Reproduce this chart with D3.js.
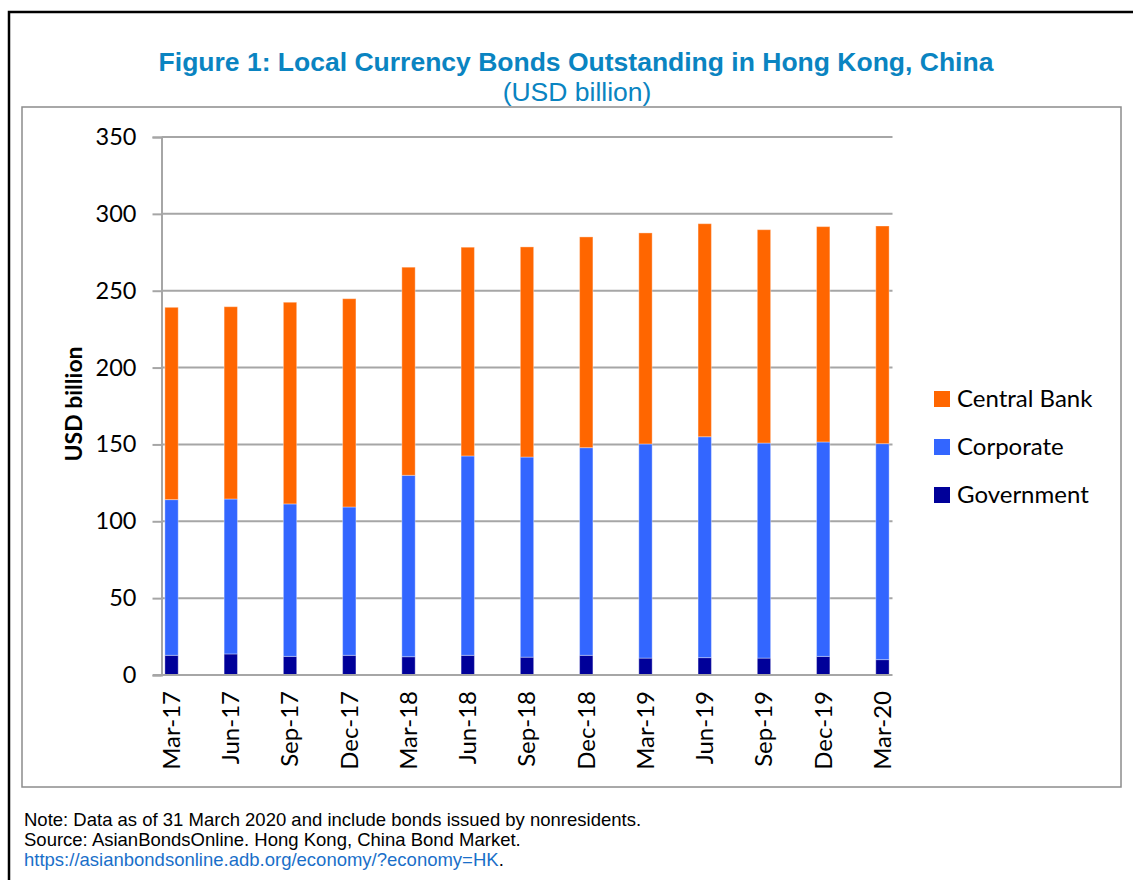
<!DOCTYPE html>
<html>
  <head>
    <meta charset="UTF-8" />
    <script src="https://cdnjs.cloudflare.com/ajax/libs/d3/7.8.5/d3.min.js"></script>
    <style>
      body { margin: 0; background: #fff; }
      text.tick-label { font-family: Lato, "Open Sans", sans-serif; font-size: 24px; fill: #000; }
      line.grid { stroke: #a6a6a6; stroke-width: 2; }
      .title { font-family: "Liberation Sans", Arial, sans-serif; fill: #0a84c1; }
      .note { font-family: "Liberation Sans", Arial, sans-serif; font-size: 18.5px; fill: #000; }
    </style>
  </head>
  <body>
    <svg id="chart" width="1133" height="880"></svg>
    <script>
      // data (USD billion)
      var quarters = ["Mar-17", "Jun-17", "Sep-17", "Dec-17", "Mar-18", "Jun-18", "Sep-18",
                      "Dec-18", "Mar-19", "Jun-19", "Sep-19", "Dec-19", "Mar-20"];
      var government = [12.8, 13.7, 12.1, 12.8, 11.9, 12.8, 11.6, 12.8, 11.0, 11.3, 11.0, 12.1, 10.0];
      var corporate = [101.3, 100.8, 99.2, 96.5, 118.0, 129.7, 130.2, 135.1, 139.3, 143.7, 139.9, 139.5, 140.5];
      var centralBank = [125.1, 125.1, 131.2, 135.5, 135.4, 135.8, 136.7, 137.1, 137.3, 138.6, 138.8, 140.1, 141.6];
      var yTicks = [0, 50, 100, 150, 200, 250, 300, 350];

      var seriesNames = ["Government", "Corporate", "Central Bank"];
      var seriesColors = { "Government": "#000099", "Corporate": "#3366ff", "Central Bank": "#ff6600" };

      var rows = quarters.map((q, i) => ({
        quarter: q,
        "Government": government[i],
        "Corporate": corporate[i],
        "Central Bank": centralBank[i]
      }));

      var svg = d3.select("#chart");

      // outer black border and grey chart frame
      svg.append("rect").attr("x", 9).attr("y", 12).attr("width", 1200).attr("height", 1000)
        .attr("fill", "none").attr("stroke", "#000").attr("stroke-width", 2.5);
      svg.append("rect").attr("x", 22).attr("y", 107).attr("width", 1099).attr("height", 680)
        .attr("fill", "none").attr("stroke", "#8c8c8c").attr("stroke-width", 1.5);

      svg.append("text").attr("class", "title")
        .attr("x", 576).attr("y", 71).attr("text-anchor", "middle")
        .style("font-size", "26.5px").style("font-weight", "bold")
        .text("Figure 1: Local Currency Bonds Outstanding in Hong Kong, China");
      svg.append("text").attr("class", "title")
        .attr("x", 577).attr("y", 101).attr("text-anchor", "middle")
        .style("font-size", "26.5px")
        .text("(USD billion)");

      var x = d3.scaleBand()
        .domain(quarters)
        .range([161.5, 892.5])
        .paddingInner(0.775)
        .paddingOuter(0.057);

      var y = d3.scaleLinear().domain([0, 350]).range([675, 137]);

      // gridlines
      svg.append("g").selectAll("line")
        .data(yTicks.filter(d => d > 0))
        .enter().append("line")
        .attr("class", "grid")
        .attr("x1", 161.5).attr("x2", 892.5)
        .attr("y1", d => y(d)).attr("y2", d => y(d));

      // y axis
      var yAxis = svg.append("g")
        .attr("transform", "translate(161.5,0)")
        .call(d3.axisLeft(y).tickValues(yTicks).tickSize(9).tickPadding(16));
      yAxis.select(".domain").attr("stroke", "#a6a6a6").attr("stroke-width", 2);
      yAxis.selectAll(".tick line").attr("stroke", "#a6a6a6").attr("stroke-width", 2);
      yAxis.selectAll(".tick text").attr("class", "tick-label").attr("fill", "#000")
        .style("font-size", "23.5px").style("font-family", "Lato, 'Open Sans', sans-serif");

      svg.append("text")
        .attr("transform", "translate(82,404) rotate(-90)")
        .attr("text-anchor", "middle")
        .style("font-family", "Lato, 'Open Sans', sans-serif")
        .style("font-weight", "bold").style("font-size", "23px")
        .text("USD billion");

      // stacked bars
      var stack = d3.stack().keys(seriesNames)(rows);

      svg.append("g").selectAll("g")
        .data(stack)
        .enter().append("g")
        .attr("fill", d => seriesColors[d.key])
        .selectAll("rect")
        .data(d => d)
        .enter().append("rect")
        .attr("x", d => x(d.data.quarter))
        .attr("width", x.bandwidth())
        .attr("y", d => y(d[1]))
        .attr("height", d => y(d[0]) - y(d[1]))
        .attr("stroke", "#fff").attr("stroke-opacity", 0.35).attr("stroke-width", 1);

      // x axis baseline
      svg.append("line")
        .attr("x1", 153).attr("x2", 892.5)
        .attr("y1", y(0)).attr("y2", y(0))
        .attr("stroke", "#a6a6a6").attr("stroke-width", 2);

      svg.append("g").selectAll("text")
        .data(quarters)
        .enter().append("text")
        .attr("class", "tick-label")
        .attr("transform", d => "translate(" + (x(d) + x.bandwidth() / 2) + ",691) rotate(-90)")
        .attr("text-anchor", "end")
        .attr("dy", "0.35em")
        .text(d => d);

      // legend
      var legendNames = ["Central Bank", "Corporate", "Government"];
      var legend = svg.append("g").selectAll("g")
        .data(legendNames)
        .enter().append("g")
        .attr("transform", (d, i) => "translate(934," + (391 + i * 48) + ")");
      legend.append("rect")
        .attr("width", 16).attr("height", 16)
        .attr("fill", d => seriesColors[d]);
      legend.append("text")
        .attr("class", "tick-label")
        .attr("x", 23).attr("y", 8).attr("dy", "0.35em")
        .text(d => d);

      // notes
      var notes = [
        "Note: Data as of 31 March 2020 and include bonds issued by nonresidents.",
        "Source: AsianBondsOnline. Hong Kong, China Bond Market."
      ];
      svg.append("g").selectAll("text")
        .data(notes)
        .enter().append("text")
        .attr("class", "note")
        .attr("x", 24).attr("y", (d, i) => 826 + i * 20)
        .text(d => d);
      var link = svg.append("text").attr("class", "note").attr("x", 24).attr("y", 866);
      link.append("tspan").attr("fill", "#1a6fc9").text("https://asianbondsonline.adb.org/economy/?economy=HK");
      link.append("tspan").text(".");
    </script>
  </body>
</html>
